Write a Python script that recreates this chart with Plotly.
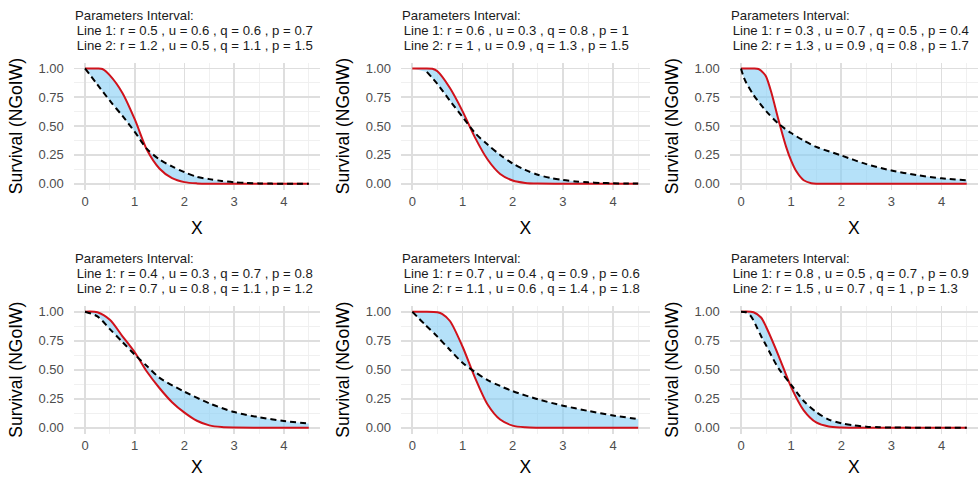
import plotly.graph_objects as go

# ---------------- data ----------------
titles = [
    ("Parameters Interval:", "Line 1: r = 0.5 , u = 0.6 , q = 0.6 , p = 0.7", "Line 2: r = 1.2 , u = 0.5 , q = 1.1 , p = 1.5"),
    ("Parameters Interval:", "Line 1: r = 0.6 , u = 0.3 , q = 0.8 , p = 1", "Line 2: r = 1 , u = 0.9 , q = 1.3 , p = 1.5"),
    ("Parameters Interval:", "Line 1: r = 0.3 , u = 0.7 , q = 0.5 , p = 0.4", "Line 2: r = 1.3 , u = 0.9 , q = 0.8 , p = 1.7"),
    ("Parameters Interval:", "Line 1: r = 0.4 , u = 0.3 , q = 0.7 , p = 0.8", "Line 2: r = 0.7 , u = 0.8 , q = 1.1 , p = 1.2"),
    ("Parameters Interval:", "Line 1: r = 0.7 , u = 0.4 , q = 0.9 , p = 0.6", "Line 2: r = 1.1 , u = 0.6 , q = 1.4 , p = 1.8"),
    ("Parameters Interval:", "Line 1: r = 0.8 , u = 0.5 , q = 0.7 , p = 0.9", "Line 2: r = 1.5 , u = 0.7 , q = 1 , p = 1.3"),
]

# Panel 1
red_x1 = [0, 0.25, 0.35, 0.5, 0.75, 1.0, 1.25, 1.5, 1.75, 2.0, 2.25, 2.5, 3.0, 3.5, 4.0, 4.5]
red_y1 = [1.0, 1.0, 0.995, 0.94, 0.79, 0.56, 0.29, 0.13, 0.048, 0.014, 0.003, 0.0, 0, 0, 0, 0]
black_x1 = [0, 0.25, 0.5, 0.75, 1.0, 1.25, 1.5, 1.75, 2.0, 2.25, 2.5, 2.75, 3.0, 3.25, 3.5, 3.75, 4.0, 4.5]
black_y1 = [1.0, 0.86, 0.72, 0.59, 0.45, 0.30, 0.21, 0.15, 0.10, 0.06, 0.04, 0.024, 0.013, 0.007, 0.003, 0.001, 0, 0]

# Panel 2
red_x2 = [0, 0.25, 0.4, 0.5, 0.75, 1.0, 1.25, 1.5, 1.75, 2.0, 2.25, 2.5, 3.0, 3.5, 4.0, 4.5]
red_y2 = [1, 1, 0.997, 0.975, 0.83, 0.63, 0.40, 0.21, 0.085, 0.028, 0.007, 0.001, 0, 0, 0, 0]
black_x2 = [0.29, 0.5, 0.75, 1.0, 1.25, 1.5, 1.75, 2.0, 2.25, 2.5, 2.75, 3.0, 3.25, 3.5, 3.75, 4.0, 4.25, 4.5]
black_y2 = [0.97, 0.865, 0.72, 0.58, 0.44, 0.34, 0.25, 0.175, 0.12, 0.078, 0.05, 0.032, 0.02, 0.012, 0.007, 0.004, 0.002, 0.001]

# Panel 3
red_x3 = [0, 0.25, 0.35, 0.45, 0.5, 0.6, 0.75, 0.9, 1.0, 1.1, 1.25, 1.4, 1.5, 2.0, 3.0, 4.0, 4.5]
red_y3 = [1, 1, 0.995, 0.96, 0.93, 0.80, 0.55, 0.32, 0.20, 0.11, 0.03, 0.005, 0.0, 0, 0, 0, 0]
black_x3 = [0, 0.05, 0.1, 0.25, 0.5, 0.75, 1.0, 1.25, 1.5, 2.0, 2.5, 3.0, 3.5, 4.0, 4.5]
black_y3 = [1, 0.93, 0.88, 0.77, 0.63, 0.52, 0.44, 0.375, 0.32, 0.245, 0.17, 0.115, 0.075, 0.047, 0.03]

# Panel 4
red_x4 = [0, 0.25, 0.5, 0.75, 1.0, 1.25, 1.5, 1.75, 2.0, 2.25, 2.5, 2.75, 3.0, 3.5, 4.0, 4.5]
red_y4 = [1, 0.995, 0.93, 0.79, 0.65, 0.48, 0.34, 0.22, 0.13, 0.06, 0.02, 0.005, 0.001, 0, 0, 0]
black_x4 = [0, 0.25, 0.5, 0.75, 1.0, 1.25, 1.5, 2.0, 2.5, 3.0, 3.5, 4.0, 4.5]
black_y4 = [1, 0.96, 0.85, 0.74, 0.63, 0.53, 0.43, 0.31, 0.21, 0.135, 0.09, 0.058, 0.036]

# Panel 5
red_x5 = [0, 0.25, 0.5, 0.6, 0.75, 1.0, 1.25, 1.5, 1.75, 2.0, 2.25, 2.5, 3.0, 3.5, 4.0, 4.5]
red_y5 = [1, 1, 0.995, 0.98, 0.92, 0.70, 0.43, 0.20, 0.07, 0.018, 0.003, 0, 0, 0, 0, 0]
black_x5 = [0, 0.25, 0.5, 0.75, 1.0, 1.25, 1.5, 1.75, 2.0, 2.5, 3.0, 3.5, 4.0, 4.5]
black_y5 = [1, 0.89, 0.785, 0.67, 0.56, 0.48, 0.41, 0.36, 0.315, 0.245, 0.19, 0.145, 0.105, 0.075]

# Panel 6
red_x6 = [0, 0.25, 0.4, 0.5, 0.75, 1.0, 1.25, 1.5, 1.75, 2.0, 2.5, 3.0, 3.5, 4.0, 4.5]
red_y6 = [1, 0.995, 0.95, 0.87, 0.62, 0.35, 0.15, 0.045, 0.01, 0.002, 0, 0, 0, 0, 0]
black_x6 = [0, 0.1, 0.2, 0.3, 0.4, 0.5, 0.75, 1.0, 1.25, 1.5, 1.75, 2.0, 2.25, 2.5, 2.75, 3.0, 3.5, 4.0, 4.5]
black_y6 = [1, 0.995, 0.96, 0.88, 0.79, 0.71, 0.51, 0.37, 0.23, 0.135, 0.07, 0.038, 0.02, 0.009, 0.004, 0.002, 0, 0, 0]

red_xs = [red_x1, red_x2, red_x3, red_x4, red_x5, red_x6]
red_ys = [red_y1, red_y2, red_y3, red_y4, red_y5, red_y6]
black_xs = [black_x1, black_x2, black_x3, black_x4, black_x5, black_x6]
black_ys = [black_y1, black_y2, black_y3, black_y4, black_y5, black_y6]

x_ticks = [0, 1, 2, 3, 4]
y_ticks = [0, 0.25, 0.5, 0.75, 1.0]
y_ticktext = ["0.00", "0.25", "0.50", "0.75", "1.00"]

# ---------------- layout ----------------
W, H = 978, 477
col_px = [(73.8, 320.0), (401.0, 649.5), (729.7, 978.0)]
row_px = [(62.7, 189.5), (305.9, 433.5)]

FONT = "Liberation Sans, Arial, sans-serif"
RED = "#d0121b"
FILL = "rgba(135,206,245,0.62)"
GRID = "#dedede"
MINOR = "#eeeeee"

fig = go.Figure()
layout = dict(
    width=W, height=H, margin=dict(l=0, r=0, t=0, b=0, autoexpand=False),
    paper_bgcolor="white", plot_bgcolor="white", showlegend=False,
    font=dict(family=FONT, color="#000000"),
    annotations=[],
)

for i in range(6):
    r, c = divmod(i, 3)
    xa = "x" if i == 0 else f"x{i+1}"
    ya = "y" if i == 0 else f"y{i+1}"
    xkey = "xaxis" if i == 0 else f"xaxis{i+1}"
    ykey = "yaxis" if i == 0 else f"yaxis{i+1}"
    x0, x1 = col_px[c]
    t0, b0 = row_px[r]
    layout[xkey] = dict(
        domain=[x0 / W, min(x1 / W, 1.0)], anchor=ya, automargin=False,
        range=[-0.225, 4.725], tickvals=x_ticks, ticks="",
        showline=False, zeroline=False, showgrid=True,
        gridcolor=GRID, gridwidth=1.7,
        minor=dict(dtick=0.5, tick0=0, showgrid=True, gridcolor=MINOR, gridwidth=0.9),
        tickfont=dict(size=13, color="#4d4d4d", family=FONT),
        ticklabelstandoff=2,
        title=dict(text="X", font=dict(size=17.5, color="#000000", family=FONT), standoff=14),
    )
    layout[ykey] = dict(
        domain=[1 - b0 / H, 1 - t0 / H], anchor=xa, automargin=False,
        range=[-0.05, 1.05], tickvals=y_ticks, ticktext=y_ticktext, ticks="",
        showline=False, zeroline=False, showgrid=True,
        gridcolor=GRID, gridwidth=1.7,
        minor=dict(dtick=0.125, tick0=0, showgrid=True, gridcolor=MINOR, gridwidth=0.9),
        tickfont=dict(size=13, color="#4d4d4d", family=FONT),
        ticklabelstandoff=9,
        title=dict(text="Survival (NGoIW)", font=dict(size=17.5, color="#000000", family=FONT), standoff=11),
    )
    # red solid curve
    fig.add_trace(go.Scatter(
        x=red_xs[i], y=red_ys[i], xaxis=xa, yaxis=ya, mode="lines",
        line=dict(color=RED, width=2, shape="spline", smoothing=0.8),
        hoverinfo="skip"))
    # black dashed curve, filling the gap to the red curve
    fig.add_trace(go.Scatter(
        x=black_xs[i], y=black_ys[i], xaxis=xa, yaxis=ya, mode="lines",
        line=dict(color="#000000", width=2, dash="6px,4px", shape="spline", smoothing=0.8),
        fill="tonexty", fillcolor=FILL, hoverinfo="skip"))
    t = titles[i]
    for k, (txt, sh, xs) in enumerate(zip(
            [t[0], "\u00a0" + t[1], "\u00a0" + t[2]], [47, 32, 17], [-1, -3, -3])):
        layout["annotations"].append(dict(
            xref=f"{xa} domain", yref=f"{ya} domain", x=0, y=1,
            xanchor="left", yanchor="middle", align="left", showarrow=False,
            xshift=xs, yshift=sh, text=txt,
            font=dict(size=13.2, color="#1a1a1a", family=FONT),
        ))

fig.update_layout(**layout)
fig.write_html(
    "out.html",
    config={"displayModeBar": False, "staticPlot": True},
    post_script="document.body.style.margin='0';document.body.style.overflow='hidden';",
)
